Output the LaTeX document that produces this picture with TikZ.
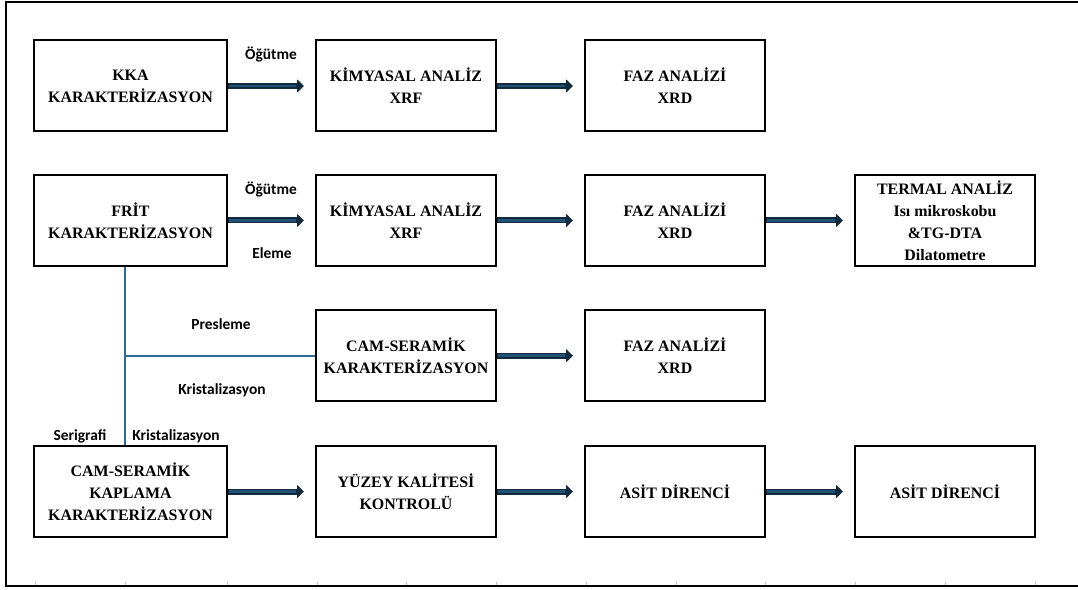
\documentclass[tikz,border=0pt]{standalone}
\usepackage{fontspec}
\setmainfont{Liberation Serif}
\newfontfamily\labfont{Carlito}
\usetikzlibrary{arrows.meta}
\definecolor{arrowdark}{RGB}{18,42,62}
\definecolor{arrowfill}{RGB}{32,82,118}
\definecolor{linkblue}{RGB}{43,108,150}
\definecolor{tickgray}{RGB}{195,195,195}
\tikzset{
  stagebox/.style={draw=black, line width=2bp, minimum width=180bp, minimum height=91bp,
    inner sep=0pt, align=center, font=\fontsize{16}{22}\selectfont\bfseries},
  widebox/.style={stagebox, minimum width=193bp},
  flowarrow/.style={line width=6bp, draw=arrowdark, shorten >=11bp,
    -{Triangle[length=7bp,width=13bp]},
    postaction={draw=arrowfill, line width=2.6bp, shorten >=19bp, shorten <=0.5bp, -}},
  link/.style={draw=linkblue, line width=1.6bp},
  steplabel/.style={anchor=base, inner sep=0pt, font=\labfont\fontsize{15.5}{17}\selectfont\bfseries},
  tick/.style={draw=tickgray, line width=0.8bp}
}
\begin{document}
\begin{tikzpicture}[x=1bp, y=-1bp]
\useasboundingbox (0,0) rectangle (1078,590);
% frame
\draw[line width=2bp] (1078,2) -- (5.5,2) -- (5.5,585.5) -- (1078,585.5);
\foreach \t in {35.5,125,227,317,406,496,586,676,765,855,945,1035}
  \draw[tick] (\t,581.5) -- (\t,584.5);

% row 1
\node[widebox]  (kka)  at (130.5,86) {KKA\\KARAKTERİZASYON};
\node[stagebox] (kim1) at (406,86) {KİMYASAL ANALİZ\\XRF};
\node[stagebox] (faz1) at (675,86) {FAZ ANALİZİ\\XRD};
% row 2
\node[widebox]  (frit) at (130.5,220.5) {FRİT\\KARAKTERİZASYON};
\node[stagebox] (kim2) at (406,220.5) {KİMYASAL ANALİZ\\XRF};
\node[stagebox] (faz2) at (675,220.5) {FAZ ANALİZİ\\XRD};
\node[stagebox] (term) at (945,220.5) {TERMAL ANALİZ\\Isı mikroskobu\\\&TG-DTA\\Dilatometre};
% row 3
\node[stagebox] (cam3) at (406,355.7) {CAM-SERAMİK\\KARAKTERİZASYON};
\node[stagebox] (faz3) at (675,355.7) {FAZ ANALİZİ\\XRD};
% row 4
\node[widebox]  (cam4) at (130.5,491.5) {CAM-SERAMİK\\KAPLAMA\\KARAKTERİZASYON};
\node[stagebox] (yuz)  at (406,491.5) {YÜZEY KALİTESİ\\KONTROLÜ};
\node[stagebox] (asit1) at (675,491.5) {ASİT DİRENCİ};
\node[stagebox] (asit2) at (945,491.5) {ASİT DİRENCİ};

% arrows
\draw[flowarrow] (kka.east) -- (kim1.west);
\draw[flowarrow] (kim1.east) -- (faz1.west);
\draw[flowarrow] (frit.east) -- (kim2.west);
\draw[flowarrow] (kim2.east) -- (faz2.west);
\draw[flowarrow] (faz2.east) -- (term.west);
\draw[flowarrow] (cam3.east) -- (faz3.west);
\draw[flowarrow] (cam4.east) -- (yuz.west);
\draw[flowarrow] (yuz.east) -- (asit1.west);
\draw[flowarrow] (asit1.east) -- (asit2.west);

% blue links
\coordinate (junc) at (125,355.7);
\draw[link] (frit.south -| junc) -- (cam4.north -| junc);
\draw[link] (junc) -- (cam3.west);

% labels
\node[steplabel] (l1) at (271,60) {Öğütme};
\node[steplabel] (l2) at (271,195) {Öğütme};
\node[steplabel] (l3) at (272,259) {Eleme};
\node[steplabel] (l4) at (221,329) {Presleme};
\node[steplabel] (l5) at (222,394) {Kristalizasyon};
\node[steplabel] (l6) at (80,440) {Serigrafi};
\node[steplabel] (l7) at (176,440) {Kristalizasyon};
\end{tikzpicture}
\end{document}
